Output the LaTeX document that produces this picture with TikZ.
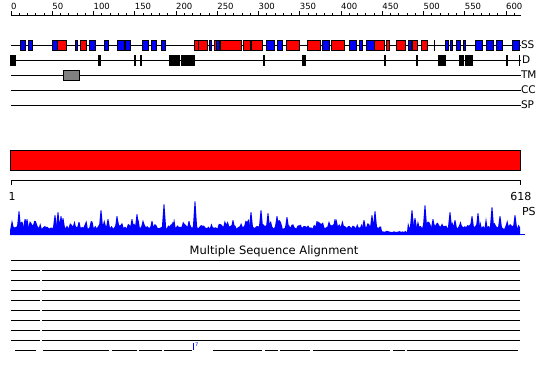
\documentclass[tikz,border=0pt]{standalone}
\usepackage{fontspec}
\setmainfont{DejaVu Sans}
\begin{document}
\begin{tikzpicture}[x=1pt,y=-1pt,line width=1pt,
  ssB/.style={fill=blue,draw=black,line width=0.8pt},
  ssR/.style={fill=red,draw=black,line width=0.8pt},
  dbox/.style={fill=black},
  track/.style={draw=black,line width=1pt},
  lab/.style={font=\fontsize{10.5}{12}\selectfont,anchor=base west,inner sep=0pt},
  rlab/.style={font=\fontsize{8.5}{10}\selectfont,anchor=base west,inner sep=0pt},
  blab/.style={font=\fontsize{11}{12}\selectfont,anchor=base,inner sep=0pt}]
\useasboundingbox (0,0) rectangle (550,380);
% top ruler
\draw[track] (11,15) -- (521,15);
\foreach \r in {0,10,...,610} \draw[line width=0.8pt] ({11+0.825*\r},15.5) -- ++(0,-3);
\foreach \r in {0,50,...,600} {
  \draw[line width=0.8pt] ({11+0.825*\r},15.5) -- ++(0,-4.5);
  \node[rlab] (r\r) at ({10.6+0.825*\r},9.5) {\r};
}
% tracks
\foreach \y in {45,60,75,90,105} \draw[track] (11,\y) -- (521,\y);
\node[lab] (lSS) at (520.5,48.8) {SS};
\node[lab] (lD)  at (521.5,63.8) {D};
\node[lab] (lTM) at (520.5,78.8) {TM};
\node[lab] (lCC) at (520.5,93.8) {CC};
\node[lab] (lSP) at (520.5,108.8) {SP};
% SS boxes
\foreach \a/\b in {20/25,28.3/32.3,52.3/57.7,75.3/77.7,89/95.7,104.7/108.3,117.3/124,125.7/130.7,142.5/148.5,151/156.7,161.3/165.7,209.3/211.7,216.7/219.3,266/274.5,277.7/282.3,322.3/329,349/356.7,359.3/362.3,366.5/374,408.3/411.7,445.8/448.3,450.3/452.5,456.5/460.5,463.3/465.7,475.7/482,486.7/493.7,496.5/502.3,512.5/519.7}
  \draw[ssB] (\a,40.3) rectangle (\b,50.5);
\foreach \a/\b in {57.7/66,80.7/86.7,194.3/198.7,198.7/207.7,214.3/216.7,220/241.7,243.3/250,251.5/262.5,286.5/299.3,307.5/320,331.7/344,374/384,386.5/389.5,396.5/405,412.7/417.5,421/427.5}
  \draw[ssR] (\a,40.3) rectangle (\b,50.5);
\draw[line width=0.8pt] (434.3,40.3) -- (434.3,50.5);
% D boxes
\foreach \a/\b in {10/15.7,98.3/101.3,134/135.7,140/141.7,169.3/180,181/194.7,263.3/265,302.3/305.7,384/385.7,416/418,438.3/445.7,459/464,465/472.7,506/508.3,518.5/520}
  \fill[dbox] (\a,54.8) rectangle (\b,65.6);
% TM box
\draw[fill=gray,draw=black,line width=0.8pt] (63.3,70.2) rectangle (79.7,80.6);
% protein bar
\draw[fill=red,draw=black,line width=1pt] (10.5,150.5) rectangle (520.5,170.5);
% bottom ruler
\draw[track] (11,185) -- (11,180.5) -- (520.7,180.5) -- (520.7,185);
\node[blab] (one) at (12,200) {1};
\node[blab] (end) at (520.8,200) {618};
\node[lab,font=\fontsize{11}{12}\selectfont] (lPS) at (521.5,215.2) {PS};
% PS profile
\pgfmathsetseed{7}
\fill[blue] (10,235) -- (10,231)
  -- plot[domain=10.5:381,samples=250,variable=\t] (\t,{229-4*rnd-8*rnd^4})
  -- plot[domain=382:407,samples=18,variable=\t] (\t,{232.3-1.5*rnd})
  -- plot[domain=408:520,samples=80,variable=\t] (\t,{229-4*rnd-8*rnd^4})
  -- (520,235) -- cycle;
\draw[blue,line width=1pt] (519,234.6) -- (525,234.6);
\foreach \x/\h in {19/211,25/219,27/219,55/215,58/212,61/216,63/218,79/222,101/210,108/219,117/216,132/219,137/214,152/221,164/204,173/222,189/221,195/201,233/220,251/212,261/210,268/213,277/216,287/217,317/221,335/219,364/220,372/215,375/211,412/210,415/218,425/205,433/219,450/212,455/220,472/216,478/213,492/207,500/216,515/215}
  \fill[blue] ({\x-2.3},230) -- ({\x-0.4},\h) -- ({\x+0.4},\h) -- ({\x+2.3},230) -- cycle;
% MSA
\node[font=\fontsize{11.5}{13}\selectfont,inner sep=0pt] (msa) at (274,251) {Multiple Sequence Alignment};
\draw[track] (11,260) -- (520,260);
\foreach \y in {270,280,...,340} {
  \draw[track] (11,\y) -- (39.5,\y);
  \draw[track] (42,\y) -- (520,\y);
}
\foreach \a/\b in {15/36,42.7/109.3,111.7/136.7,139.3/161.7,164/191.7,213.3/261.7,265/278.3,280/310,313.3/390,393.3/405,406.7/518.3}
  \draw[track] (\a,350) -- (\b,350);
\draw[blue,line width=0.6pt] (193,343) -- (193,350);
\node[blue,font=\fontsize{5}{6}\selectfont,anchor=base west,inner sep=0pt] (seven) at (194.5,346) {7};
\end{tikzpicture}
\end{document}
